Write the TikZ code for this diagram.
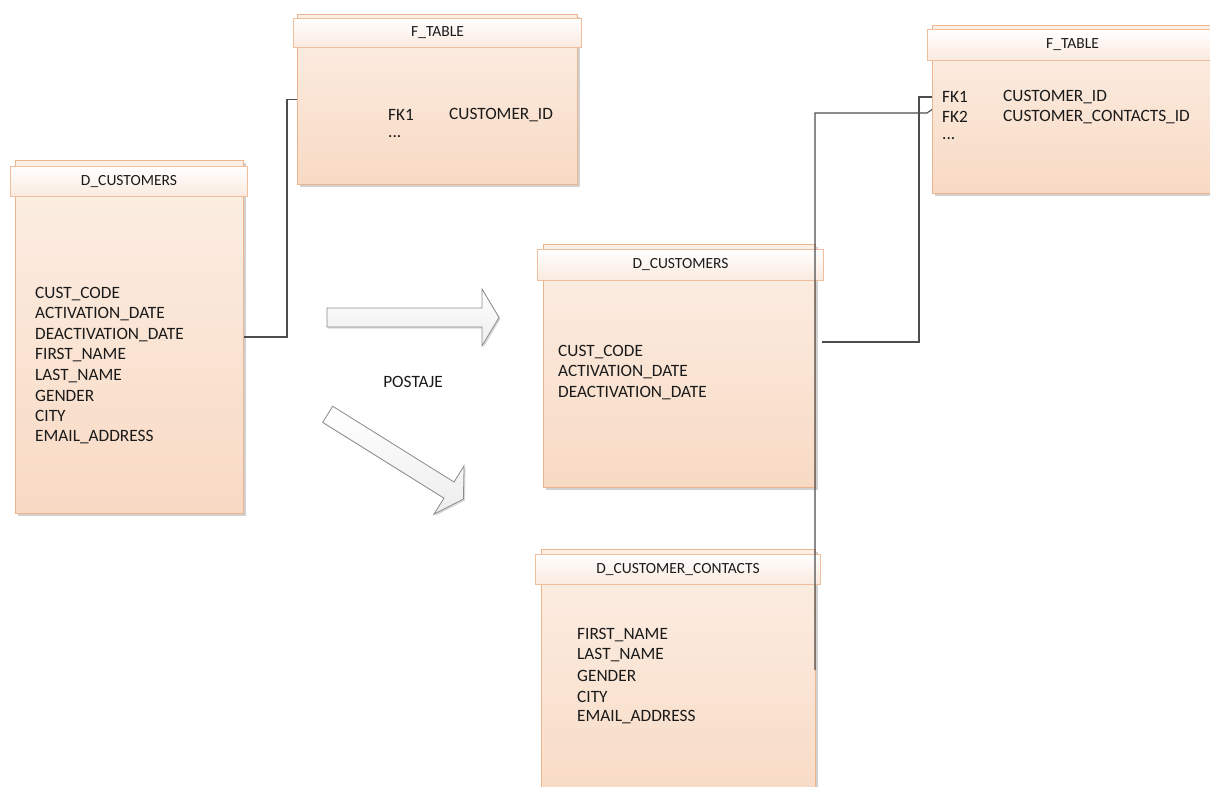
\documentclass[tikz,border=0pt]{standalone}
\usepackage{fontspec}
\setmainfont{Carlito}
\usetikzlibrary{shadows,calc}
\definecolor{bodytop}{HTML}{FCEFE5}
\definecolor{bodybot}{HTML}{F8DAC4}
\definecolor{bodyedge}{HTML}{EBB58E}
\definecolor{headedge}{HTML}{F0BE9A}
\definecolor{headbot}{HTML}{FBEADF}
\definecolor{linkcol}{HTML}{4D4D4D}
\definecolor{arrowedge}{HTML}{8A8A8A}
\definecolor{txt}{HTML}{1A1A1A}
\tikzset{
  tbody/.style={draw=bodyedge, line width=1pt, top color=bodytop, bottom color=bodybot,
    anchor=north west, inner sep=0pt, rectangle,
    drop shadow={shadow xshift=2pt, shadow yshift=-2pt, opacity=0.18, fill=black}},
  thead/.style={draw=headedge, line width=1pt, top color=white, bottom color=headbot,
    anchor=north west, inner sep=0pt, rectangle, font=\fontsize{15.5}{18}\selectfont, text=txt},
  field/.style={anchor=west, inner sep=0pt, font=\fontsize{17.3}{20}\selectfont, text=txt},
  link/.style={draw=linkcol, line width=1.1pt},
  blockarrow/.style={draw=arrowedge, line width=0.8pt, top color=white, bottom color=black!7,
    drop shadow={shadow xshift=1.5pt, shadow yshift=-1.5pt, opacity=0.15, fill=black}},
  pics/blockarr/.style={code={
    \path[blockarrow] (0,-9.5) -- (#1,-9.5) -- (#1,-28.5) -- (#1+17,0) -- (#1,28.5) -- (#1,9.5) -- (0,9.5) -- cycle;
  }}
}
\begin{document}
\begin{tikzpicture}[x=1pt,y=-1pt]
\useasboundingbox (0,0) rectangle (1210,787);
\clip (0,0) rectangle (1210,787);

% F_TABLE (left)
\node[tbody, minimum width=280pt, minimum height=170pt] (ft1) at (297,14) {};
\node[thead, minimum width=288pt, minimum height=29pt] (ft1h) at (293,18) {F\_TABLE};
\node[field] (ft1fk1) at (388,115) {FK1};
\node[field] (ft1c1) at (449,115) {CUSTOMER\_ID};
\node[field] (ft1dots) at (388,137) {...};

% D_CUSTOMERS (left)
\node[tbody, minimum width=228pt, minimum height=353pt] (dc1) at (15,160) {};
\node[thead, minimum width=237pt, minimum height=30pt] (dc1h) at (10,166) {D\_CUSTOMERS};
\foreach \t [count=\i] in {CUST\_CODE,ACTIVATION\_DATE,DEACTIVATION\_DATE,FIRST\_NAME,LAST\_NAME,GENDER,CITY,EMAIL\_ADDRESS}
  \node[field] (dc1f\i) at (35,{294+20.4*(\i-1)}) {\t};

% D_CUSTOMERS (middle)
\node[tbody, minimum width=272pt, minimum height=243pt] (dc2) at (543,244) {};
\node[thead, minimum width=286pt, minimum height=31pt] (dc2h) at (537,249) {D\_CUSTOMERS};
\foreach \t [count=\i] in {CUST\_CODE,ACTIVATION\_DATE,DEACTIVATION\_DATE}
  \node[field] (dc2f\i) at (558,{352+20.5*(\i-1)}) {\t};

% D_CUSTOMER_CONTACTS
\node[tbody, minimum width=274pt, minimum height=260pt] (dcc) at (541,549) {};
\node[thead, minimum width=285pt, minimum height=30pt] (dcch) at (535,554) {D\_CUSTOMER\_CONTACTS};
\foreach \t [count=\i] in {FIRST\_NAME,LAST\_NAME,GENDER,CITY,EMAIL\_ADDRESS}
  \node[field] (dccf\i) at (577,{635+20.5*(\i-1)}) {\t};

% F_TABLE (right)
\node[tbody, minimum width=280pt, minimum height=168pt] (ft2) at (932,25) {};
\node[thead, minimum width=290pt, minimum height=31pt] (ft2h) at (927,29) {F\_TABLE};
\node[field] (ft2fk1) at (942,97) {FK1};
\node[field] (ft2c1) at (1003,97) {CUSTOMER\_ID};
\node[field] (ft2fk2) at (942,117) {FK2};
\node[field] (ft2c2) at (1003,117) {CUSTOMER\_CONTACTS\_ID};
\node[field] (ft2dots) at (942,139) {...};

% block arrows and label
\pic (arrowr) at (327,317.5) {blockarr=155};
\pic[rotate=-32] (arrowd) at (327.7,414.3) {blockarr=143};
\node[field, anchor=center] (postaje) at (413,382) {POSTAJE};

% connectors
\draw[link] (dc1.east) -- ++(43,0) |- (ft1.west);
\coordinate (c2s) at (822,342);
\coordinate (c2x) at (919,0);
\draw[link] (c2s) -| (c2x |- ft2fk1) -- (ft2.west |- ft2fk1);
\coordinate (c3s) at (815,670);
\coordinate (c3k) at (927,113);
\draw[link] (c3s) |- (c3k) -- (ft2.west);
\end{tikzpicture}
\end{document}
